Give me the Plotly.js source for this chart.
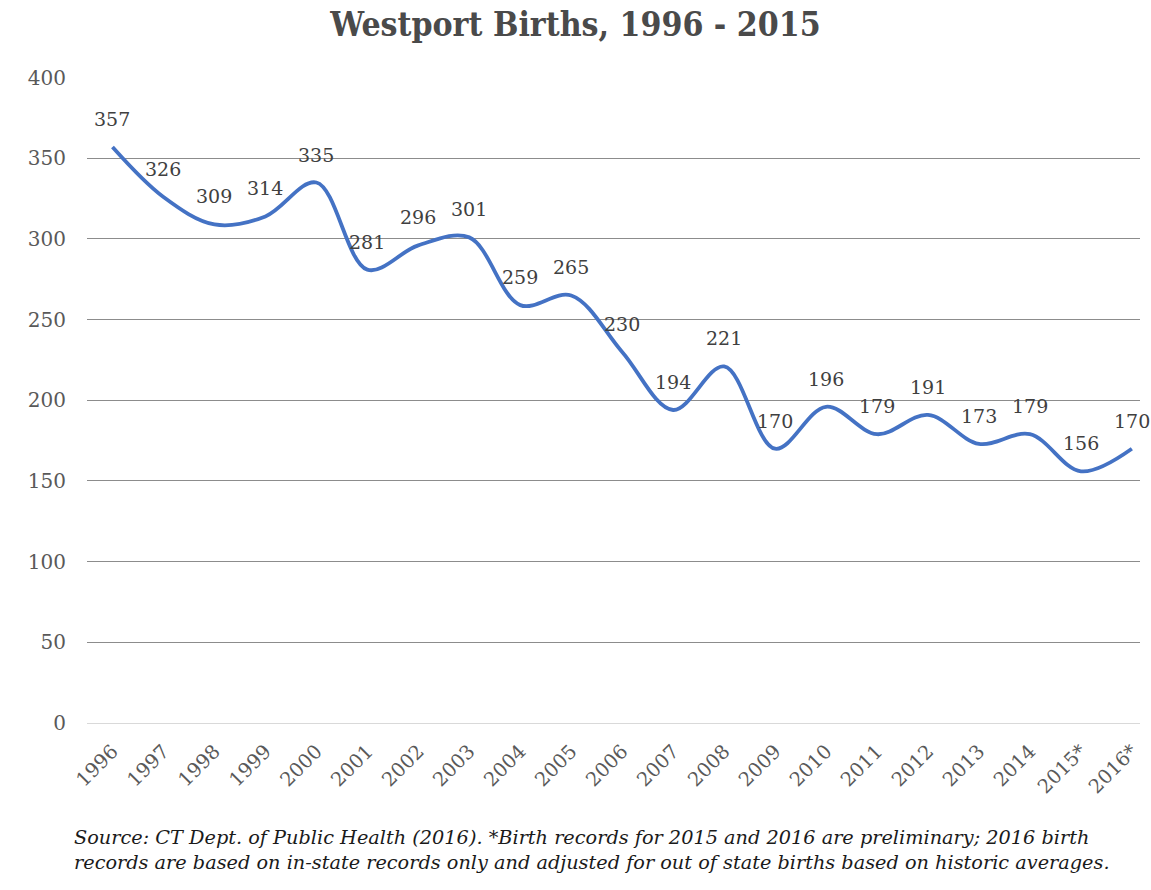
<!DOCTYPE html>
<html>
<head>
<meta charset="utf-8">
<script src="https://cdn.plot.ly/plotly-3.0.1.min.js"></script>
<style>html,body{margin:0;padding:0;background:#fff;}#chart{width:1151px;height:890px;}</style>
</head>
<body>
<div id="chart"></div>
<script>
const years = ["1996","1997","1998","1999","2000","2001","2002","2003","2004","2005","2006","2007","2008","2009","2010","2011","2012","2013","2014","2015*","2016*"];
const births = [357,326,309,314,335,281,296,301,259,265,230,194,221,170,196,179,191,173,179,156,170];
const yTicks = [0,50,100,150,200,250,300,350,400];
const titleText = "Westport Births, 1996 - 2015";
const captionText = "Source: CT Dept. of Public Health (2016). *Birth records for 2015 and 2016 are preliminary; 2016 birth<br>records are based on in-state records only and adjusted for out of state births based on historic averages.";

const serif = "Georgia, 'DejaVu Serif', serif";

const trace = {
  x: years,
  y: births,
  type: 'scatter',
  mode: 'lines',
  line: {color: '#4472C4', width: 3.8, shape: 'spline', smoothing: 1},
  hoverinfo: 'x+y'
};

const labels = years.map((yr, i) => ({
  x: i, y: births[i], xref: 'x', yref: 'y',
  text: String(births[i]), showarrow: false, yshift: 28,
  font: {family: serif, size: 19, color: '#404040'}
}));

labels.push({
  xref: 'paper', yref: 'paper', x: -0.0142, y: -0.156,
  xanchor: 'left', yanchor: 'top', align: 'left',
  text: captionText, showarrow: false,
  font: {family: "'DejaVu Serif', serif", size: 19.3, color: '#1a1a1a', style: 'italic'}
});

const layout = {
  width: 1151, height: 890,
  margin: {l: 87, r: 11, t: 77, b: 167},
  paper_bgcolor: '#ffffff', plot_bgcolor: '#ffffff',
  showlegend: false,
  title: {
    text: '<b>' + titleText + '</b>',
    x: 0.5, xref: 'container', y: 1 - 24/890, yref: 'container', yanchor: 'middle',
    font: {family: "'DejaVu Serif Condensed', 'DejaVu Serif', serif", size: 33.5, color: '#4a4a4a'}
  },
  xaxis: {
    type: 'category',
    range: [-0.5, 20.16],
    tickangle: -45,
    showgrid: false, zeroline: false, showline: false,
    ticks: '',
    ticklabelstandoff: 12,
    tickfont: {family: serif, size: 19.5, color: '#595959'}
  },
  yaxis: {
    range: [0, 400.4],
    tickvals: yTicks,
    ticktext: yTicks.map(String),
    showgrid: true, gridcolor: '#8c8c8c', gridwidth: 1,
    zeroline: true, zerolinecolor: '#d9d9d9', zerolinewidth: 1,
    showline: false, ticks: '',
    ticklabelstandoff: 20,
    tickfont: {family: serif, size: 20, color: '#595959'}
  },
  annotations: labels
};

Plotly.newPlot('chart', [trace], layout, {displayModeBar: false, staticPlot: true});
</script>
</body>
</html>
